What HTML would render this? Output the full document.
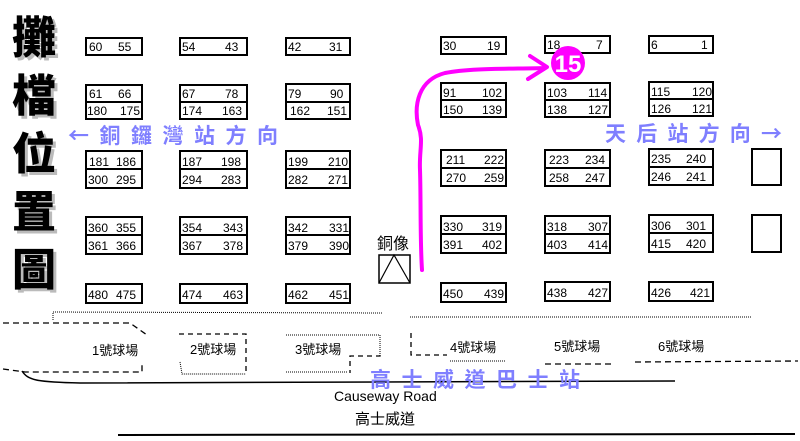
<!DOCTYPE html>
<html><head><meta charset="utf-8"><style>
html,body{margin:0;padding:0;background:#fff}
svg{display:block}
text{font-family:"Liberation Sans","Noto Sans CJK TC",sans-serif}
.n{font-size:12px;fill:#000}
.b{fill:none;stroke:#000;stroke-width:2}
.big{font-family:"Noto Sans CJK TC","WenQuanYi Zen Hei",sans-serif;font-weight:900;font-size:44px}
.blue{font-family:"Noto Sans CJK TC",sans-serif;font-weight:700;font-size:21px;fill:#7f7fff}
</style></head><body>
<svg width="800" height="441" viewBox="0 0 800 441" xmlns="http://www.w3.org/2000/svg">
<g class="big">
<g fill="#bbb"><text x="15" y="56">攤</text><text x="15" y="114">檔</text><text x="15" y="172">位</text><text x="15" y="230">置</text><text x="15" y="288">圖</text></g>
<g fill="#000"><text x="12" y="53">攤</text><text x="12" y="111">檔</text><text x="12" y="169">位</text><text x="12" y="227">置</text><text x="12" y="285">圖</text></g>
</g>
<text class="blue" x="68" y="143" textLength="210" lengthAdjust="spacing">← 銅 鑼 灣 站 方 向</text>
<text class="blue" x="605" y="141" textLength="177" lengthAdjust="spacing">天 后 站 方 向 →</text>
<g>
<rect class="b" x="86" y="38" width="56" height="17"/><text class="n" x="89" y="51">60</text><text class="n" x="118" y="51">55</text>
<rect class="b" x="180" y="38" width="67" height="17"/><text class="n" x="182" y="51">54</text><text class="n" x="225" y="51">43</text>
<rect class="b" x="286" y="38" width="64" height="17"/><text class="n" x="288" y="51">42</text><text class="n" x="329" y="51">31</text>
<rect class="b" x="441" y="37" width="65" height="17"/><text class="n" x="443" y="50">30</text><text class="n" x="487" y="50">19</text>
<rect class="b" x="545" y="36" width="65" height="17"/><text class="n" x="547" y="49">18</text><text class="n" x="596" y="49">7</text>
<rect class="b" x="649" y="36" width="64" height="17"/><text class="n" x="651" y="49">6</text><text class="n" x="701" y="49">1</text>

<rect class="b" x="86" y="85" width="56" height="34"/><line class="b" x1="86" y1="102" x2="142" y2="102"/><text class="n" x="89" y="98">61</text><text class="n" x="118" y="98">66</text><text class="n" x="87" y="115">180</text><text class="n" x="120" y="115">175</text>
<rect class="b" x="180" y="85" width="67" height="34"/><line class="b" x1="180" y1="102" x2="247" y2="102"/><text class="n" x="182" y="98">67</text><text class="n" x="225" y="98">78</text><text class="n" x="182" y="115">174</text><text class="n" x="222" y="115">163</text>
<rect class="b" x="286" y="84" width="64" height="35"/><line class="b" x1="286" y1="102" x2="350" y2="102"/><text class="n" x="288" y="98">79</text><text class="n" x="330" y="98">90</text><text class="n" x="290" y="115">162</text><text class="n" x="327" y="115">151</text>
<rect class="b" x="441" y="83" width="65" height="34"/><line class="b" x1="441" y1="100" x2="506" y2="100"/><text class="n" x="443" y="97">91</text><text class="n" x="482" y="97">102</text><text class="n" x="443" y="114">150</text><text class="n" x="482" y="114">139</text>
<rect class="b" x="545" y="83" width="65" height="34"/><line class="b" x1="545" y1="100" x2="610" y2="100"/><text class="n" x="547" y="97">103</text><text class="n" x="588" y="97">114</text><text class="n" x="547" y="114">138</text><text class="n" x="588" y="114">127</text>
<rect class="b" x="649" y="82" width="64" height="34"/><line class="b" x1="649" y1="99" x2="713" y2="99"/><text class="n" x="651" y="96">115</text><text class="n" x="692" y="96">120</text><text class="n" x="651" y="113">126</text><text class="n" x="692" y="113">121</text>

<rect class="b" x="86" y="151" width="56" height="37"/><line class="b" x1="86" y1="169" x2="142" y2="169"/><text class="n" x="89" y="166">181</text><text class="n" x="116" y="166">186</text><text class="n" x="88" y="184">300</text><text class="n" x="116" y="184">295</text>
<rect class="b" x="180" y="151" width="67" height="37"/><line class="b" x1="180" y1="169" x2="247" y2="169"/><text class="n" x="182" y="166">187</text><text class="n" x="221" y="166">198</text><text class="n" x="182" y="184">294</text><text class="n" x="221" y="184">283</text>
<rect class="b" x="286" y="151" width="64" height="37"/><line class="b" x1="286" y1="169" x2="350" y2="169"/><text class="n" x="288" y="166">199</text><text class="n" x="328" y="166">210</text><text class="n" x="288" y="184">282</text><text class="n" x="328" y="184">271</text>
<rect class="b" x="441" y="150" width="65" height="36"/><line class="b" x1="441" y1="168" x2="506" y2="168"/><text class="n" x="446" y="164">211</text><text class="n" x="484" y="164">222</text><text class="n" x="446" y="182">270</text><text class="n" x="484" y="182">259</text>
<rect class="b" x="545" y="150" width="65" height="36"/><line class="b" x1="545" y1="168" x2="610" y2="168"/><text class="n" x="549" y="164">223</text><text class="n" x="585" y="164">234</text><text class="n" x="549" y="182">258</text><text class="n" x="585" y="182">247</text>
<rect class="b" x="649" y="149" width="64" height="36"/><line class="b" x1="649" y1="167" x2="713" y2="167"/><text class="n" x="651" y="163">235</text><text class="n" x="686" y="163">240</text><text class="n" x="651" y="181">246</text><text class="n" x="686" y="181">241</text>
<rect class="b" x="752" y="149" width="29" height="36"/>

<rect class="b" x="86" y="217" width="56" height="37"/><line class="b" x1="86" y1="235" x2="142" y2="235"/><text class="n" x="88" y="232">360</text><text class="n" x="116" y="232">355</text><text class="n" x="88" y="250">361</text><text class="n" x="116" y="250">366</text>
<rect class="b" x="180" y="217" width="67" height="37"/><line class="b" x1="180" y1="235" x2="247" y2="235"/><text class="n" x="182" y="232">354</text><text class="n" x="223" y="232">343</text><text class="n" x="182" y="250">367</text><text class="n" x="223" y="250">378</text>
<rect class="b" x="286" y="217" width="64" height="37"/><line class="b" x1="286" y1="235" x2="350" y2="235"/><text class="n" x="288" y="232">342</text><text class="n" x="329" y="232">331</text><text class="n" x="288" y="250">379</text><text class="n" x="329" y="250">390</text>
<rect class="b" x="441" y="216" width="65" height="37"/><line class="b" x1="441" y1="234" x2="506" y2="234"/><text class="n" x="443" y="231">330</text><text class="n" x="482" y="231">319</text><text class="n" x="443" y="249">391</text><text class="n" x="482" y="249">402</text>
<rect class="b" x="545" y="216" width="65" height="37"/><line class="b" x1="545" y1="234" x2="610" y2="234"/><text class="n" x="547" y="231">318</text><text class="n" x="588" y="231">307</text><text class="n" x="547" y="249">403</text><text class="n" x="588" y="249">414</text>
<rect class="b" x="649" y="215" width="64" height="37"/><line class="b" x1="649" y1="233" x2="713" y2="233"/><text class="n" x="651" y="230">306</text><text class="n" x="686" y="230">301</text><text class="n" x="651" y="248">415</text><text class="n" x="686" y="248">420</text>
<rect class="b" x="752" y="215" width="29" height="37"/>

<rect class="b" x="86" y="284" width="56" height="19"/><text class="n" x="88" y="299">480</text><text class="n" x="116" y="299">475</text>
<rect class="b" x="180" y="284" width="67" height="19"/><text class="n" x="182" y="299">474</text><text class="n" x="223" y="299">463</text>
<rect class="b" x="286" y="284" width="64" height="19"/><text class="n" x="288" y="299">462</text><text class="n" x="329" y="299">451</text>
<rect class="b" x="441" y="283" width="65" height="19"/><text class="n" x="443" y="298">450</text><text class="n" x="484" y="298">439</text>
<rect class="b" x="545" y="282" width="65" height="19"/><text class="n" x="547" y="297">438</text><text class="n" x="588" y="297">427</text>
<rect class="b" x="649" y="282" width="64" height="19"/><text class="n" x="651" y="297">426</text><text class="n" x="690" y="297">421</text>
</g>
<text x="377" y="249" font-size="16" font-family="Noto Sans CJK TC,sans-serif">銅像</text>
<rect x="379" y="255" width="31" height="28" fill="none" stroke="#000" stroke-width="1.5"/>
<polyline points="379,283 394,255 410,283" fill="none" stroke="#000" stroke-width="1.2"/>
<path d="M422,270 C420,240 421,200 420,170 C419,150 424,140 418,125 C414,105 418,80 445,73 C470,68 510,69 545,68" fill="none" stroke="#f0f" stroke-width="4" stroke-linecap="round"/>
<polyline points="530,56 547,67 528,79" fill="none" stroke="#f0f" stroke-width="4" stroke-linecap="round" stroke-linejoin="round"/>
<circle cx="568" cy="63" r="17" fill="#f0f"/>
<text x="568" y="72" font-size="24" font-weight="bold" fill="#fff" text-anchor="middle" font-family="Liberation Serif,serif">15</text>
<g fill="none" stroke="#000" stroke-width="1">
<polyline points="53,320 53,312 382,313" stroke-dasharray="1,1"/>
<line x1="410" y1="317" x2="752" y2="317" stroke-dasharray="1,1"/>
<polyline points="3,323 130,323 147,335" stroke-dasharray="6,4" stroke-width="1.3"/>
<polyline points="3,369 25,372 142,372 142,362" stroke-dasharray="6,4" stroke-width="1.3"/>
<polyline points="179,334 246,334 246,373" stroke-dasharray="5,4" stroke-width="1.3"/>
<polyline points="180,362 182,374 246,374" stroke-dasharray="1,1"/>
<polyline points="286,335 380,335 380,355" stroke-dasharray="1,1"/>
<polyline points="380,355 380,356 350,356 350,373" stroke-dasharray="5,4" stroke-width="1.3"/>
<line x1="286" y1="372" x2="348" y2="372" stroke-dasharray="1,1"/>
<polyline points="411,333 411,355 447,355" stroke-dasharray="5,4" stroke-width="1.3"/>
<line x1="450" y1="361" x2="505" y2="361" stroke-dasharray="1,1"/>
<line x1="545" y1="364" x2="615" y2="364" stroke-dasharray="6,4" stroke-width="1.3"/>
<line x1="635" y1="362" x2="798" y2="361" stroke-dasharray="6,4" stroke-width="1.3"/>
<path d="M22,371 C28,380 35,382 80,383 L675,381" stroke-width="1.5"/>
<line x1="118" y1="435" x2="795" y2="434" stroke-width="2"/>
</g>
<g font-size="13" font-family="Noto Sans CJK TC,sans-serif">
<text x="92" y="355">1號球場</text><text x="190" y="354">2號球場</text><text x="295" y="354">3號球場</text>
<text x="450" y="352">4號球場</text><text x="554" y="351">5號球場</text><text x="658" y="351">6號球場</text>
</g>
<text class="blue" x="370" y="387" textLength="210" lengthAdjust="spacing">高 士 威 道 巴 士 站</text>
<text x="334" y="401" font-size="14">Causeway Road</text>
<text x="355" y="424" font-size="15" font-family="Noto Sans CJK TC,sans-serif">高士威道</text>
</svg>
</body></html>
